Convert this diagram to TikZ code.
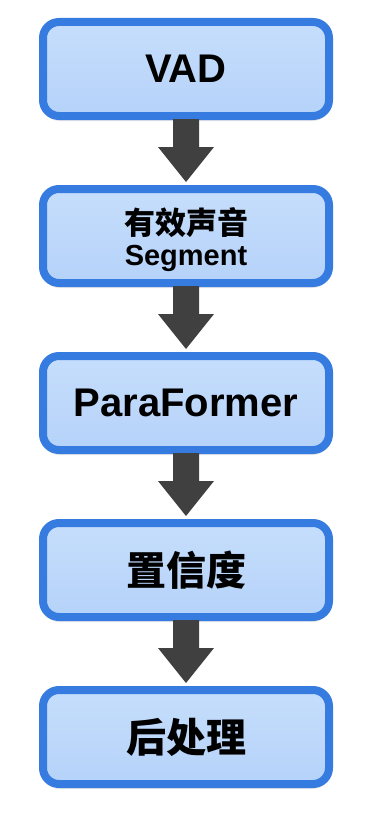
\documentclass[tikz,border=0pt]{standalone}
\usepackage{fontspec}
\setmainfont{Liberation Sans}
\newfontfamily\cjk{Noto Sans CJK SC}
\usetikzlibrary{calc,shadows}
\definecolor{boxborder}{HTML}{367BE0}
\definecolor{boxtop}{HTML}{C6DEFC}
\definecolor{boxbot}{HTML}{B5D2F9}
\definecolor{arrowc}{HTML}{404040}
\tikzset{
  stepbox/.style={draw=boxborder, line width=8pt, rounded corners=16pt,
    top color=boxtop, bottom color=boxbot,
    minimum width=286pt, minimum height=94pt, inner sep=0pt, align=center,
    drop shadow={opacity=0.18, shadow xshift=0pt, shadow yshift=-5pt},
    font=\bfseries},
  flowarrow/.style={fill=arrowc}
}
\begin{document}
\begin{tikzpicture}[x=1pt,y=-1pt]
\useasboundingbox (0,0) rectangle (366,816);
\node[stepbox] (b1) at (186,69) {\fontsize{40}{44}\selectfont VAD};
\node[stepbox, font=\bfseries\fontsize{29}{31}\selectfont] (b2) at (186,236)
  {\rule{0pt}{34pt}{\cjk\bfseries\fontsize{31}{31}\selectfont 有效声音}\\{\fontsize{29}{31}\selectfont Segment}};
\node[stepbox] (b3) at (186,403) {\fontsize{40}{44}\selectfont ParaFormer};
\node[stepbox] (b4) at (186,570) {\cjk\bfseries\fontsize{40}{44}\selectfont 置信度};
\node[stepbox] (b5) at (186,737) {\cjk\bfseries\fontsize{40}{44}\selectfont 后处理};
\foreach \a/\b in {b1/b2,b2/b3,b3/b4,b4/b5}{
  \fill[flowarrow] ($(\a.south)+(-13,-1)$) -- ($(\b.north)+(-13,-38)$)
    -- ($(\b.north)+(-28,-38)$) -- ($(\b.north)+(0,-3)$)
    -- ($(\b.north)+(28,-38)$) -- ($(\b.north)+(13,-38)$)
    -- ($(\a.south)+(13,-1)$) -- cycle;
}
\end{tikzpicture}
\end{document}
